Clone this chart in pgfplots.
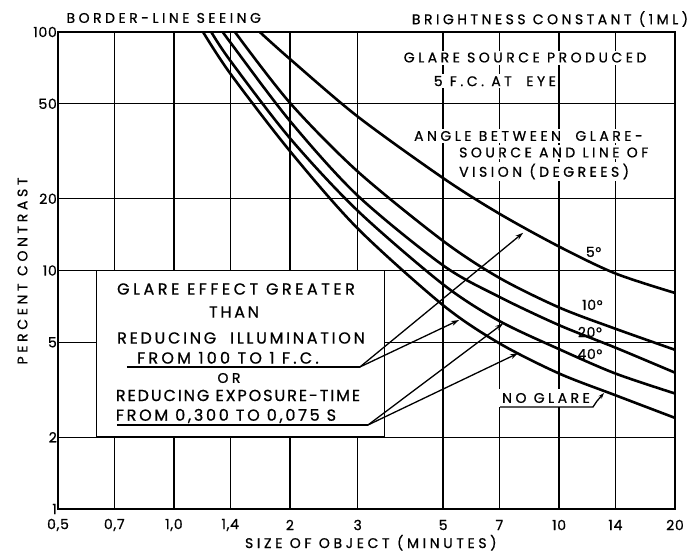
\documentclass[border=0pt]{standalone}
\usepackage{fontspec}
\setmainfont{Poppins}[FakeBold=0.8]
\usepackage{pgfplots}
\pgfplotsset{compat=1.18}
\usetikzlibrary{arrows.meta}
\newcommand\lab{\fontsize{14}{15}\selectfont\addfontfeature{LetterSpace=25}}
\newcommand\axlab{\fontsize{14}{15}\selectfont\addfontfeature{LetterSpace=26}}
\newcommand\num{\fontsize{14}{15}\selectfont\addfontfeature{LetterSpace=5}}
\newcommand\boxlab[1]{\fontsize{16}{17}\selectfont\addfontfeature{LetterSpace=#1}}
\begin{document}
\begin{tikzpicture}[x=1pt,y=1pt]
\useasboundingbox (-58,-43) rectangle (637,509);
\begin{axis}[
  at={(0,0)}, anchor=south west,
  width=617pt, height=477pt, scale only axis,
  xmode=log, ymode=log,
  xmin=0.5, xmax=20, ymin=1, ymax=100,
  clip=false,
  xtick={0.5,0.7,1,1.4,2,3,5,7,10,14,20},
  xticklabels={{0,5},{0,7},{1,0},{1,4},2,3,5,7,10,14,20},
  ytick={1,2,5,10,20,50,100},
  yticklabels={1,2,5,10,20,50,100},
  minor xtick={}, minor ytick={},
  grid=major,
  major grid style={black, line width=1.4pt},
  axis line style={black, line width=1.6pt},
  major tick length=0pt,
  /pgf/number format/assume math mode=true,
  tick label style={font=\num},
  xticklabel style={anchor=center, yshift=-16pt},
  yticklabel style={anchor=east, inner sep=1pt},
  xlabel={SIZE OF OBJECT (MINUTES)},
  ylabel={PERCENT CONTRAST},
  xlabel style={font=\axlab, at={(axis description cs:0.507,-0.0818)}, anchor=base},
  ylabel style={font=\axlab, at={(axis description cs:-0.0575,0.499)}, anchor=center},
  crv/.style={black, line width=2.6pt, smooth, no markers},
  arr/.style={black, line width=1.3pt, sharp plot, no markers, -{Stealth[length=8pt,width=5pt]}},
  uln/.style={black, line width=1.3pt, sharp plot, no markers},
]
% box
\draw[fill=white, line width=1.6pt] (axis cs:0.63,2) rectangle (axis cs:3.52,10);

% curves: 5, 10, 20, 40 degrees, no glare
\addplot[crv] coordinates {(1.67,100) (2,77.1) (3,44.2) (5,24.4) (7,17.3) (10,12.6) (14,9.72) (20,8.05)};
\addplot[crv] coordinates {(1.44,100) (2,50.5) (3,26.0) (5,13.3) (7,9.31) (10,7.0) (14,5.7) (20,4.65)};
\addplot[crv] coordinates {(1.34,100) (1.4,90.6) (2,42.4) (3,20.6) (5,10.5) (7,7.75) (10,5.9) (14,4.75) (20,3.73)};
\addplot[crv] coordinates {(1.25,100) (1.4,75.9) (2,35.9) (3,17.8) (5,8.74) (7,6.14) (10,4.68) (14,3.7) (20,3.05)};
\addplot[crv] coordinates {(1.19,100) (1.4,67) (2,31.7) (3,15.0) (5,7.15) (7,4.95) (10,3.7) (14,3.0) (20,2.41)};

% arrows from the box
\addplot[arr] coordinates {(3.04,3.94) (8.07,14.4)};
\addplot[arr] coordinates {(3.04,3.94) (5.5,6.2)};
\addplot[arr] coordinates {(3.19,2.25) (7.16,6.0)};
\addplot[arr] coordinates {(3.19,2.25) (7.83,4.5)};
% underlines
\addplot[uln] coordinates {(0.755,3.94) (3.04,3.94)};
\addplot[uln] coordinates {(0.711,2.25) (3.19,2.25)};

% box text
\node[font=\boxlab{22}] at (rel axis cs:0.2885,0.4612) {GLARE EFFECT GREATER};
\node[font=\boxlab{17}] at (rel axis cs:0.2853,0.4130) {THAN};
\node[font=\boxlab{17}] at (rel axis cs:0.2966,0.3585) {REDUCING\ \ ILLUMINATION};
\node[font=\boxlab{20}] at (rel axis cs:0.2755,0.3170) {FROM 100 TO 1 F.C.};
\node[font=\lab] at (rel axis cs:0.2771,0.2746) {OR};
\node[font=\boxlab{12}] at (rel axis cs:0.2917,0.2380) {REDUCING EXPOSURE-TIME};
\node[font=\boxlab{17}] at (rel axis cs:0.2723,0.1950) {FROM 0,300 TO 0,075 S};

% upper right texts
\node[font=\lab, fill=white, inner sep=2pt] at (rel axis cs:0.757,0.9465) {GLARE SOURCE\ PRODUCED};
\node[font=\lab, fill=white, inner sep=2pt] at (rel axis cs:0.708,0.897) {5 F.C. AT\ \ EYE};
\node[font=\lab, fill=white, inner sep=2pt, anchor=west] at (rel axis cs:0.5736,0.782) {ANGLE\ BETWEEN\ \ GLARE-};
\node[font=\lab, fill=white, inner sep=2pt, anchor=west] at (rel axis cs:0.6466,0.7474) {SOURCE AND LINE OF};
\node[font=\lab, fill=white, inner sep=2pt, anchor=west] at (rel axis cs:0.6466,0.7075) {VISION\ (DEGREES)};

% degree labels
\node[font=\num] at (rel axis cs:0.868,0.539) {5°};
\node[font=\num] at (rel axis cs:0.866,0.428) {10°};
\node[font=\num] at (rel axis cs:0.862,0.371) {20°};
\node[font=\num] at (rel axis cs:0.862,0.325) {40°};

% no glare
\node[font=\lab, fill=white, inner sep=4pt] at (rel axis cs:0.7909,0.2327) {NO GLARE};
\draw[line width=1.3pt] (rel axis cs:0.7164,0.2138) -- (rel axis cs:0.8671,0.2138) -- (rel axis cs:0.8736,0.2264);
\draw[line width=1.3pt, -{Stealth[length=6pt,width=4pt]}] (rel axis cs:0.8736,0.2264) -- (rel axis cs:0.8849,0.2432);

% top titles
\node[font=\lab, anchor=west] at (rel axis cs:0.0081,1.0294) {BORDER-LINE SEEING};
\node[font=\lab, anchor=east] at (rel axis cs:1.027,1.0273) {BRIGHTNESS CONSTANT (1ML)};
\end{axis}
\end{tikzpicture}
\end{document}
